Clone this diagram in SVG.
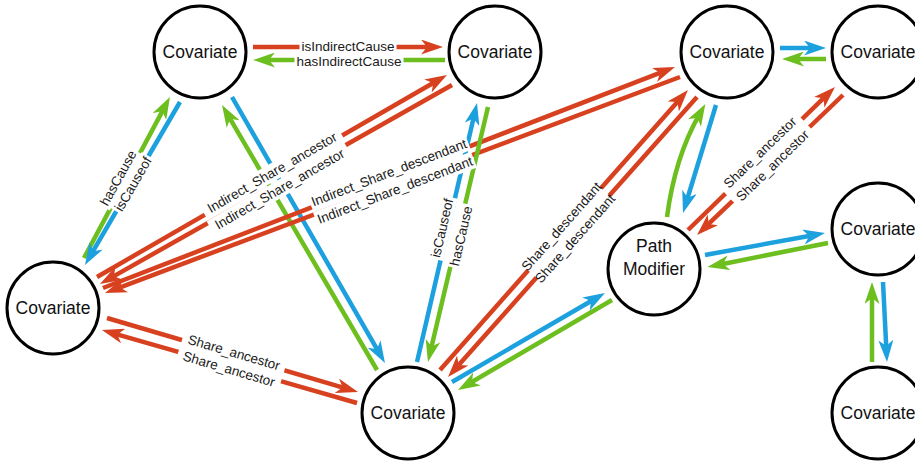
<svg xmlns="http://www.w3.org/2000/svg" width="915" height="461" viewBox="0 0 915 461">
<defs>
<marker id="ar" markerUnits="userSpaceOnUse" markerWidth="22" markerHeight="15" refX="10" refY="7.5" orient="auto"><path d="M0,0 L22,7.5 L0,15 L6,7.5 Z" fill="#D8411F"/></marker>
<marker id="ag" markerUnits="userSpaceOnUse" markerWidth="22" markerHeight="15" refX="10" refY="7.5" orient="auto"><path d="M0,0 L22,7.5 L0,15 L6,7.5 Z" fill="#6DBE1F"/></marker>
<marker id="ab" markerUnits="userSpaceOnUse" markerWidth="22" markerHeight="15" refX="10" refY="7.5" orient="auto"><path d="M0,0 L22,7.5 L0,15 L6,7.5 Z" fill="#1CA0DE"/></marker>
</defs>
<style>
.e{fill:none;stroke-width:4.5}
.r{stroke:#D8411F;marker-end:url(#ar)}
.g{stroke:#6DBE1F;marker-end:url(#ag)}
.b{stroke:#1CA0DE;marker-end:url(#ab)}
.lb rect{fill:#fff}
.lb text{font-family:"Liberation Sans",Arial,sans-serif;font-size:13.5px;fill:#1a1a1a;text-anchor:middle}
.n circle{fill:#fff;stroke:#000;stroke-width:3}
.n text{font-family:"Liberation Sans",Arial,sans-serif;font-size:17.5px;fill:#111;text-anchor:middle}
</style>
<rect width="915" height="461" fill="#fff"/>
<g id="connectors">
<path class="e r" d="M253,47 L431,47"/>
<path class="e g" d="M445,60 L265,60"/>
<path class="e g" d="M84,258 L164.3,107.6"/>
<path class="e b" d="M180,102 L91,254.6"/>
<path class="e g" d="M377,370 L228.1,115.4"/>
<path class="e b" d="M232,97 L379,352.6"/>
<path class="e r" d="M97,277 L436.6,81"/>
<path class="e r" d="M452,85 L110.4,278.1"/>
<path class="e r" d="M103,288 L663.8,71.3"/>
<path class="e r" d="M680,77 L116.2,288.8"/>
<path class="e b" d="M417,362 L474.3,114.7"/>
<path class="e g" d="M488,107 L430.7,350.3"/>
<path class="e r" d="M440,370 L680,99"/>
<path class="e r" d="M697,97 L456,368"/>
<path class="e b" d="M452,382 L594.6,299"/>
<path class="e g" d="M612,300 L468.4,384"/>
<path class="e r" d="M107,318 L346.5,388.6"/>
<path class="e r" d="M357,403 L113.5,333.3"/>
<path class="e b" d="M780,48 L814,48"/>
<path class="e g" d="M826,59 L794,59"/>
<path class="e g" d="M667,217 Q675,157 699.4,114.4"/>
<path class="e b" d="M716,105 L686.5,201.5"/>
<path class="e r" d="M688,230 L826.4,95.4"/>
<path class="e r" d="M843,95 L705.7,226.7"/>
<path class="e b" d="M705,255 L813.2,235.2"/>
<path class="e g" d="M828,243 L719.2,264.7"/>
<path class="e b" d="M883,282 L886.4,350"/>
<path class="e g" d="M872,362 L872,294"/>

<g class="lb" transform="translate(348,46)"><rect x="-48.5" y="-8.5" width="97" height="17"/><text y="4.7">isIndirectCause</text></g>
<g class="lb" transform="translate(349,61)"><rect x="-54.5" y="-8.5" width="109" height="17"/><text y="4.7">hasIndirectCause</text></g>
<g class="lb" transform="translate(118,178) rotate(-61)"><rect x="-32.4" y="-8.5" width="64.8" height="17"/><text y="4.7">hasCause</text></g>
<g class="lb" transform="translate(133,184) rotate(-60)"><rect x="-32" y="-8.5" width="64" height="17"/><text y="4.7">isCauseof</text></g>
<g class="lb" transform="translate(272,172.5) rotate(-30)"><rect x="-79.3" y="-8.5" width="158.6" height="17"/><text y="4.7">Indirect_Share_ancestor</text></g>
<g class="lb" transform="translate(279.5,189) rotate(-30)"><rect x="-79.3" y="-8.5" width="158.6" height="17"/><text y="4.7">Indirect_Share_ancestor</text></g>
<g class="lb" transform="translate(389,172.5) rotate(-21)"><rect x="-84.6" y="-8.5" width="169.2" height="17"/><text y="4.7">Indirect_Share_descendant</text></g>
<g class="lb" transform="translate(395,190) rotate(-21)"><rect x="-84.6" y="-8.5" width="169.2" height="17"/><text y="4.7">Indirect_Share_descendant</text></g>
<g class="lb" transform="translate(442,228) rotate(-77)"><rect x="-32" y="-8.5" width="64" height="17"/><text y="4.7">isCauseof</text></g>
<g class="lb" transform="translate(461,236) rotate(-77)"><rect x="-32.4" y="-8.5" width="64.8" height="17"/><text y="4.7">hasCause</text></g>
<g class="lb" transform="translate(561.5,226.5) rotate(-48.5)"><rect x="-54.9" y="-8.5" width="109.8" height="17"/><text y="4.7">Share_descendant</text></g>
<g class="lb" transform="translate(575,238.5) rotate(-48.5)"><rect x="-54.9" y="-8.5" width="109.8" height="17"/><text y="4.7">Share_descendant</text></g>
<g class="lb" transform="translate(760,152.5) rotate(-44.2)"><rect x="-53.4" y="-8.5" width="106.8" height="17"/><text y="4.7">Share_ancestor</text></g>
<g class="lb" transform="translate(772.5,165.5) rotate(-44.2)"><rect x="-53.4" y="-8.5" width="106.8" height="17"/><text y="4.7">Share_ancestor</text></g>
<g class="lb" transform="translate(234,352.5) rotate(16.4)"><rect x="-53.4" y="-8.5" width="106.8" height="17"/><text y="4.7">Share_ancestor</text></g>
<g class="lb" transform="translate(229,369) rotate(16.4)"><rect x="-53.4" y="-8.5" width="106.8" height="17"/><text y="4.7">Share_ancestor</text></g>
</g>

<g id="nodeA" class="n"><circle cx="200" cy="52" r="46"/><text x="200" y="58">Covariate</text></g>
<g id="nodeB" class="n"><circle cx="495" cy="52" r="46"/><text x="495" y="58">Covariate</text></g>
<g id="nodeC" class="n"><circle cx="727" cy="52" r="46"/><text x="727" y="58">Covariate</text></g>
<g id="nodeD" class="n"><circle cx="878" cy="52" r="46"/><text x="878" y="58">Covariate</text></g>
<g id="nodeE" class="n"><circle cx="53" cy="308" r="46"/><text x="53" y="314">Covariate</text></g>
<g id="nodeF" class="n"><circle cx="408" cy="413" r="46"/><text x="408" y="419">Covariate</text></g>
<g id="nodeG" class="n"><circle cx="654" cy="269" r="46"/><text x="654" y="252">Path</text><text x="654" y="275">Modifier</text></g>
<g id="nodeH" class="n"><circle cx="878" cy="229" r="46"/><text x="878" y="235">Covariate</text></g>
<g id="nodeI" class="n"><circle cx="878" cy="413" r="46"/><text x="878" y="419">Covariate</text></g>
</svg>
